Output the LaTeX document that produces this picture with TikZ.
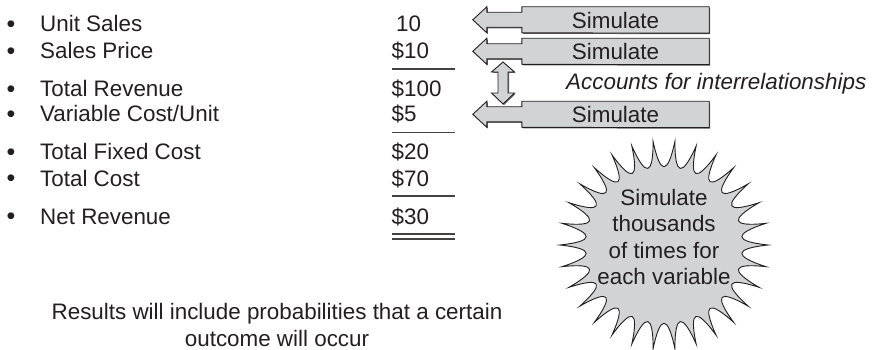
\documentclass[tikz,border=0pt]{standalone}
\usepackage{fontspec}
\setmainfont{Liberation Sans}
\usetikzlibrary{backgrounds,shadows}
\definecolor{ink}{RGB}{35,31,32}
\definecolor{panel}{RGB}{210,211,213}
\newcommand\bodyfont{\fontsize{22.4}{26.6}\selectfont}
\newcommand\dotfont{\fontsize{25}{26.6}\selectfont}

\begin{document}
\begin{tikzpicture}[x=1pt,y=-1pt,
  txt/.style={anchor=base west, inner sep=0pt, font=\bodyfont, text=ink},
  dot/.style={anchor=base west, inner sep=0pt, font=\dotfont, text=ink},
  simbox/.style={minimum width=187pt, minimum height=26pt, inner sep=0pt,
    font=\bodyfont, text=ink},
  arrowshape/.style={fill=panel, draw=ink, line width=0.9pt, line join=miter,
    drop shadow={shadow xshift=1pt, shadow yshift=-1pt, fill=ink!70, opacity=1}},
  rule/.style={draw=ink!85, line width=1.2pt},
  burst/.style={fill=panel, draw=ink, line width=0.9pt, line join=miter}]

\useasboundingbox (0,0) rectangle (873,350);

% line items
\node[dot] (b1) at (6.5,32.5)  {•}; \node[txt] (i1) at (40,32)  {Unit Sales};
\node[dot] (b2) at (6.5,59.5)  {•}; \node[txt] (i2) at (40,59)  {Sales Price};
\node[dot] (b3) at (6.5,97.5)  {•}; \node[txt] (i3) at (40,97)  {Total Revenue};
\node[dot] (b4) at (6.5,122.5) {•}; \node[txt] (i4) at (40,122) {Variable Cost/Unit};
\node[dot] (b5) at (6.5,160.5) {•}; \node[txt] (i5) at (40,160) {Total Fixed Cost};
\node[dot] (b6) at (6.5,186.5) {•}; \node[txt] (i6) at (40,186) {Total Cost};
\node[dot] (b7) at (6.5,224.5) {•}; \node[txt] (i7) at (40,224) {Net Revenue};

% values
\node[txt] (v1) at (396,32) {10};
\node[txt] (v2) at (391.5,59) {\$10};
\node[txt] (v3) at (391.5,97) {\$100};
\node[txt] (v4) at (391.5,122) {\$5};
\node[txt] (v5) at (391.5,160) {\$20};
\node[txt] (v6) at (391.5,186) {\$70};
\node[txt] (v7) at (391.5,224) {\$30};

% subtotal rules
\draw[rule] (392,69) -- (455,69);
\draw[rule] (392,132.5) -- (455,132.5);
\draw[rule] (392,196) -- (455,196);
\draw[rule] (392,234) -- (455,234);
\draw[rule] (392,239) -- (455,239);

% simulation inputs
\node[simbox] (s1) at (615.5,20)    {Simulate};
\node[simbox] (s2) at (615.5,51.5)  {Simulate};
\node[simbox] (s3) at (615.5,114.5) {Simulate};

\begin{scope}[on background layer]
  \foreach \b in {s1,s2,s3}
    \path[arrowshape] (\b.north west) -- ++(0,-5.5pt) -- ++(-35pt,0)
      -- ++(0,5.5pt) -- ++(-14pt,-13pt) -- ++(14pt,-13pt) -- ++(0,5.5pt)
      -- ++(35pt,0) -- ++(0,-5.5pt) -- (\b.south east) -- (\b.north east)
      -- cycle;
\end{scope}

% two-way link between correlated inputs
\coordinate (lk) at (503,83);
\path[arrowshape] (503,62) -- (514.5,72) -- (508,72) -- (508,93) -- (514.5,93)
  -- (503,104) -- (491.5,93) -- (498,93) -- (498,72) -- (491.5,72) -- cycle;

\node[txt, font=\bodyfont\itshape] (note) at (566,90) {Accounts for interrelationships};

% starburst
\begin{scope}[shift={(664,245)}]
  \path[burst] (96:104) \foreach \i in {0,...,29} {
      .. controls ({96+12*\i+3}:70) and ({96+12*\i+9}:70) .. ({96+12*(\i+1)}:104) }
    -- cycle;
\end{scope}
\node[align=center, font=\bodyfont, text=ink, inner sep=0pt] (burstlabel)
  at (664,237) {Simulate\\thousands\\of times for\\each variable};

% outcome note
\node[align=center, font=\bodyfont, text=ink, inner sep=0pt] (result)
  at (277,325) {Results will include probabilities that a certain\\outcome will occur};

\end{tikzpicture}
\end{document}
